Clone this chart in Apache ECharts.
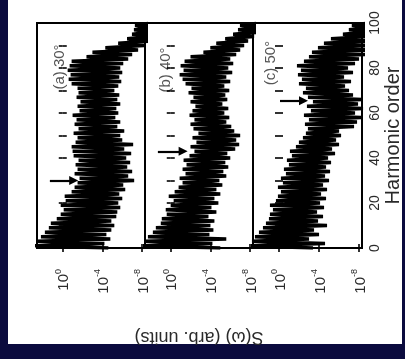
<!DOCTYPE html>
<html><head><meta charset="utf-8">
<script src="https://cdn.jsdelivr.net/npm/echarts@6/dist/echarts.min.js"></script>
<style>
html,body{margin:0;padding:0;width:405px;height:359px;background:#0b0b3e;overflow:hidden;}
#paper{position:absolute;left:8px;top:0;width:394px;height:344px;background:#fff;}
#chart{position:absolute;left:0;top:0;width:405px;height:359px;}
</style></head><body>
<div id="paper"></div><div id="chart"></div>
<script>
// Harmonic order (vertical axis after the 90-degree rotation of the figure)
const harmonicOrder = [0,1,2,3,4,5,6,7,8,9,10,11,12,13,14,15,16,17,18,19,20,21,22,23,24,25,26,27,28,29,30,31,32,33,34,35,36,37,38,39,40,41,42,43,44,45,46,47,48,49,50,51,52,53,54,55,56,57,58,59,60,61,62,63,64,65,66,67,68,69,70,71,72,73,74,75,76,77,78,79,80,81,82,83,84,85,86,87,88,89,90,91,92,93,94,95,96,97,98,99,100];

// log10 S(omega) for each harmonic order (odd = peaks, even = valleys)
const spectrum30 = [-4.6,2.8,-4.2,2.6,-4.8,2.2,-4.4,1.8,-4.9,1.4,-5.2,1.2,-4.9,0.6,-5.4,0.2,-5.5,-0.1,-5.8,0.2,
  -5.6,-0.3,-6.0,-0.2,-5.7,-0.9,-6.3,-1.2,-6.1,-1.5,-7.2,-1.7,-6.6,-1.2,-7.0,-1.5,-6.5,-1.3,-6.8,-1.6,
  -6.4,-1.1,-6.9,-1.0,-6.2,-0.9,-7.1,-1.3,-6.0,-1.5,-5.8,-1.1,-6.2,-1.6,-5.5,-1.2,-5.8,-1.4,-5.3,-1.0,
  -5.6,-1.7,-5.4,-1.5,-5.8,-1.8,-5.5,-1.4,-5.7,-1.6,-5.2,-1.5,-5.6,-0.9,-5.9,-0.6,-5.7,-0.8,-6.0,-0.5,
  -5.8,-0.7,-6.1,-0.9,-6.6,-2.4,-7.0,-3.0,-7.6,-4.3,-8.2,-5.6,-9.0,-6.5,-9.0,-7.0,-9.0,-7.2,-9.0,-7.3,-9.0];
const spectrum40 = [-5.0,2.8,-4.2,2.6,-5.6,2.3,-3.9,1.8,-4.3,1.5,-4.0,1.0,-4.4,0.9,-3.8,0.4,-4.6,0.5,-4.1,0.0,
  -4.8,-0.3,-4.4,0.2,-5.0,-0.4,-4.6,-0.8,-5.2,-1.2,-4.9,-0.9,-5.6,-1.5,-5.3,-1.2,-5.8,-1.6,-5.5,-1.3,
  -6.0,-1.9,-5.7,-2.4,-6.5,-2.0,-6.9,-2.6,-6.6,-2.2,-7.0,-2.8,-6.4,-2.3,-6.1,-2.0,-5.6,-2.4,-5.9,-1.9,
  -5.4,-2.2,-5.8,-2.5,-5.2,-2.0,-5.7,-2.3,-5.5,-1.8,-5.9,-2.1,-5.4,-1.5,-6.0,-1.2,-5.6,-0.9,-6.2,-1.3,
  -5.8,-1.0,-6.3,-1.4,-6.0,-2.0,-6.6,-3.3,-7.0,-4.0,-7.4,-4.6,-7.8,-5.5,-8.4,-6.3,-9.0,-6.8,-9.0,-7.0,-9.0];
const spectrum50 = [-3.4,2.8,-4.6,2.7,-3.0,2.4,-4.0,2.0,-3.5,1.6,-4.8,1.3,-3.9,1.0,-4.4,0.9,-3.8,0.6,-4.5,0.9,
  -4.1,0.3,-4.7,0.1,-4.2,-0.2,-4.8,0.1,-4.4,-0.4,-5.0,-0.2,-4.6,-0.7,-5.1,-0.5,-4.7,-1.0,-5.2,-0.8,
  -4.9,-1.3,-5.6,-1.1,-5.3,-1.7,-6.0,-2.0,-5.7,-2.4,-6.2,-2.7,-6.0,-2.9,-7.5,-2.6,-7.8,-3.0,-8.2,-2.5,
  -7.6,-3.2,-8.4,-2.8,-7.9,-3.4,-8.3,-2.9,-7.4,-2.4,-7.0,-2.7,-6.6,-2.0,-7.2,-2.3,-6.5,-1.9,-7.4,-2.2,
  -6.9,-1.8,-7.6,-2.5,-8.0,-3.0,-8.6,-3.3,-8.8,-3.9,-9.0,-4.5,-9.0,-5.2,-9.0,-6.4,-9.0,-7.0,-9.0,-7.3,-9.0];

const spectra = [spectrum30, spectrum40, spectrum50];
const panelLabels = ['(a) 30°', '(b) 40°', '(c) 50°'];
const sTickExponents = [-8, -4, 0];
const harmonicTickLabels = [0, 20, 40, 60, 80, 100];
const arrowHarmonic = [30, 43, 65.5];
const arrowFrom = [1.3, 1.3, -0.1];
const arrowTo = [-1.1, -1.25, -2.45];

const S_MIN = -8.3, S_MAX = 2.6;
const FONT = "'Liberation Sans', Arial, Helvetica, sans-serif";
const TXT = '#2a2a2a';

const gridBoxes = [
  {left: 37, top: 23, width: 108, height: 225},
  {left: 145, top: 23, width: 108, height: 225},
  {left: 253, top: 23, width: 109, height: 225}
];
const tickStyle = {color: '#000', width: 1.6};

const grid = gridBoxes.map(b => Object.assign({show: true, borderColor: '#000', borderWidth: 2, backgroundColor: 'transparent', containLabel: false}, b));
const xAxis = [], yAxis = [], series = [];
spectra.forEach((spec, i) => {
  xAxis.push({
    gridIndex: i, type: 'value', min: S_MIN, max: S_MAX, inverse: true, position: 'bottom',
    axisLine: {show: false}, splitLine: {show: false},
    axisTick: {show: true, inside: true, length: 4, lineStyle: tickStyle, customValues: sTickExponents},
    axisLabel: {
      show: true, rotate: 90, margin: 21, customValues: sTickExponents,
      formatter: v => '{b|10}{s|' + (v === 0 ? '0' : '-' + Math.abs(v)) + '}',
      rich: {
        b: {fontSize: 15, fontFamily: FONT, color: TXT, lineHeight: 18, verticalAlign: 'bottom'},
        s: {fontSize: 9, fontFamily: FONT, color: TXT, lineHeight: 18, verticalAlign: 'top'}
      }
    },
    name: i === 1 ? 'S(ω) (arb. units)' : '', nameLocation: 'middle', nameRotate: 180, nameGap: 80,
    nameTextStyle: {fontSize: 18, color: TXT, fontFamily: FONT}
  });
  xAxis.push({
    gridIndex: i, type: 'value', min: S_MIN, max: S_MAX, inverse: true, position: 'top',
    axisLine: {show: false}, splitLine: {show: false},
    axisTick: {show: true, inside: true, length: 4, lineStyle: tickStyle, customValues: sTickExponents},
    axisLabel: {show: false}
  });
  yAxis.push({
    gridIndex: i, type: 'value', min: 0, max: 100, interval: 10, position: 'left',
    axisLine: {show: false}, splitLine: {show: false},
    axisTick: {show: true, inside: true, length: 4, lineStyle: tickStyle},
    axisLabel: {show: false}
  });
  const last = i === 2;
  yAxis.push({
    gridIndex: i, type: 'value', min: 0, max: 100, interval: 10, position: 'right',
    axisLine: {show: false}, splitLine: {show: false},
    axisTick: {show: true, inside: true, length: 4, lineStyle: tickStyle},
    axisLabel: {show: last, rotate: 90, margin: 6, customValues: harmonicTickLabels, fontSize: 14, color: TXT, fontFamily: FONT},
    name: last ? 'Harmonic order' : '', nameLocation: 'middle', nameRotate: 90, nameGap: 21,
    nameTextStyle: {fontSize: 20, color: TXT, fontFamily: FONT}
  });
  series.push({
    type: 'line', xAxisIndex: 2 * i, yAxisIndex: 2 * i,
    data: spec.map((s, k) => [s, harmonicOrder[k]]),
    showSymbol: false, symbol: 'none', clip: true,
    lineStyle: {color: '#000', width: 3.6, join: 'bevel', cap: 'butt'},
    animation: false, silent: true,
    markLine: {
      silent: true, animation: false, symbol: ['none', 'triangle'], symbolSize: [9, 9],
      label: {show: false},
      lineStyle: {color: '#000', width: 2.2, type: 'solid'},
      data: [[{coord: [arrowFrom[i], arrowHarmonic[i]]}, {coord: [arrowTo[i], arrowHarmonic[i]]}]]
    }
  });
});

const labelPos = [[60, 67], [166, 70], [271, 63]];
const graphic = panelLabels.map((t, i) => ({
  type: 'text', x: labelPos[i][0], y: labelPos[i][1], rotation: Math.PI / 2, silent: true,
  style: {text: t, fontSize: 15, fontFamily: FONT, fill: '#555', align: 'center', verticalAlign: 'middle'}
}));

const chart = echarts.init(document.getElementById('chart'), null, {renderer: 'canvas'});
chart.setOption({animation: false, backgroundColor: 'transparent', grid, xAxis, yAxis, series, graphic});
</script>
</body></html>
